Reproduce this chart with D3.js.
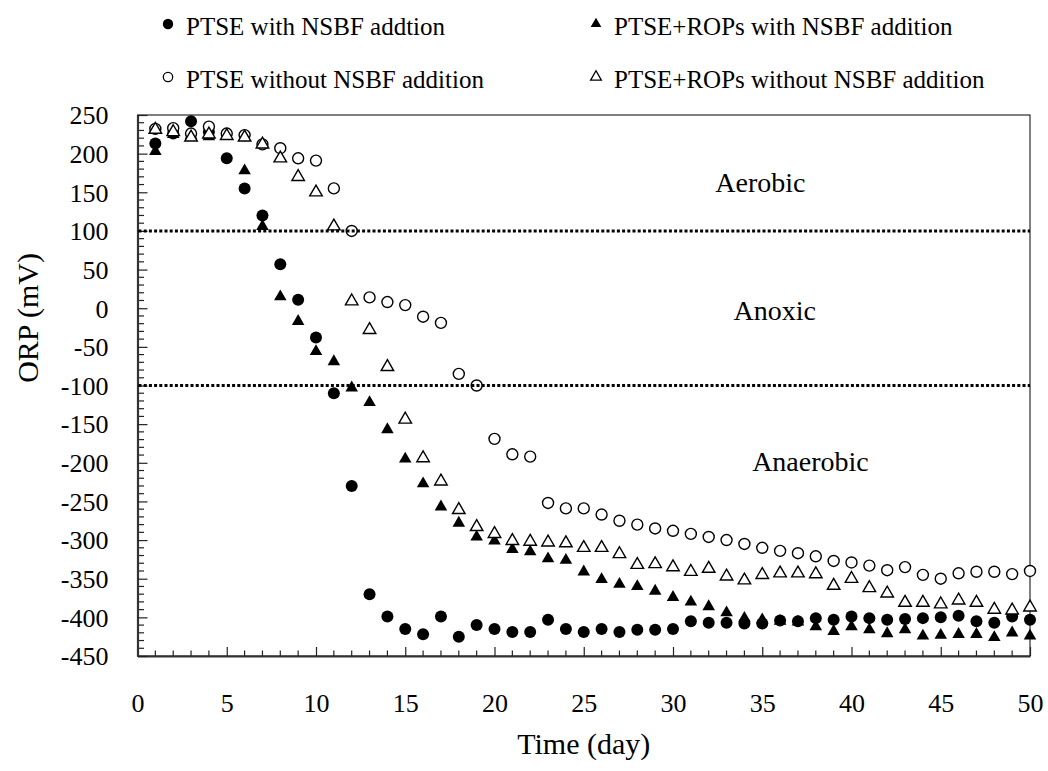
<!DOCTYPE html>
<html>
<head>
<meta charset="utf-8">
<script src="https://cdn.jsdelivr.net/npm/d3@7"></script>
<style>
  body { margin: 0; background: #fff; }
  text { font-family: "Liberation Serif", "Times New Roman", serif; fill: #000; }
</style>
</head>
<body>
<div id="chart"></div>
<script>
const days = [1,2,3,4,5,6,7,8,9,10,11,12,13,14,15,16,17,18,19,20,21,22,23,24,25,
  26,27,28,29,30,31,32,33,34,35,36,37,38,39,40,41,42,43,44,45,46,47,48,49,50];

// PTSE with NSBF addtion (filled circles)
const ptseWith = [213,226,242,228,194,155,120,57,11,-38,-110,-230,-370,-399,-415,-422,-399,-425,-410,-415,
  -419,-419,-403,-415,-419,-415,-419,-416,-416,-415,-405,-407,-407,-408,-408,-404,-405,-401,-403,-399,
  -401,-403,-402,-401,-400,-398,-405,-407,-399,-403];
// PTSE+ROPs with NSBF addition (filled triangles)
const ropsWith = [203,225,224,222,223,178,106,15,-17,-56,-69,-103,-122,-157,-195,-227,-257,-278,-296,-301,
  -312,-315,-324,-326,-341,-351,-357,-360,-366,-374,-380,-386,-394,-401,-403,-405,-406,-412,-418,-412,
  -416,-421,-416,-424,-423,-422,-422,-426,-420,-424];
// PTSE without NSBF addition (open circles)
const ptseWithout = [232,233,226,235,226,224,212,207,194,191,155,100,14,8,4,-11,-19,-85,-100,-169,
  -189,-192,-252,-259,-259,-267,-275,-280,-285,-288,-292,-296,-300,-305,-310,-314,-317,-321,-327,-329,
  -333,-339,-335,-345,-350,-343,-341,-341,-344,-340];
// PTSE+ROPs without NSBF addition (open triangles)
const ropsWithout = [231,228,221,225,223,221,212,194,170,150,106,9,-28,-76,-144,-194,-224,-261,-283,-292,
  -301,-302,-303,-304,-310,-310,-318,-332,-331,-335,-341,-337,-347,-352,-345,-343,-343,-344,-359,-350,
  -362,-369,-381,-381,-383,-378,-381,-390,-391,-387];

const xTicks = [0,5,10,15,20,25,30,35,40,45,50];
const yTicks = [250,200,150,100,50,0,-50,-100,-150,-200,-250,-300,-350,-400,-450];
const zoneLines = [100, -100];
const zones = [
  {label: "Aerobic", day: 34.9, value: 150},
  {label: "Anoxic", day: 35.7, value: -15},
  {label: "Anaerobic", day: 37.7, value: -210}
];
const legendItems = [
  {label: "PTSE with NSBF addtion", shape: "circle", filled: true},
  {label: "PTSE+ROPs with NSBF addition", shape: "triangle", filled: true},
  {label: "PTSE without NSBF addition", shape: "circle", filled: false},
  {label: "PTSE+ROPs without NSBF addition", shape: "triangle", filled: false}
];

const W = 1048, H = 771;
const mLeft = 137.5, mRight = 1030, mTop = 115, mBottom = 656;

const svg = d3.select("#chart").append("svg")
  .attr("width", W).attr("height", H);

const x = d3.scaleLinear().domain([0, 50]).range([mLeft, mRight]);
const y = d3.scaleLinear().domain([-450, 250]).range([mBottom, mTop]);

// frame (top + right thin)
svg.append("rect")
  .attr("x", mLeft).attr("y", mTop)
  .attr("width", mRight - mLeft).attr("height", mBottom - mTop)
  .attr("fill", "none").attr("stroke", "#000").attr("stroke-width", 1);

// minor ticks
const xMinor = d3.range(0, 51, 1).filter(d => d % 5 != 0);
const yMinor = d3.range(-450, 251, 10).filter(d => d % 50 != 0);

svg.append("g").selectAll("line").data(xMinor).enter().append("line")
  .attr("x1", d => x(d)).attr("x2", d => x(d))
  .attr("y1", mBottom).attr("y2", mBottom - 5.5)
  .attr("stroke", "#222").attr("stroke-width", 1.2);
svg.append("g").selectAll("line").data(yMinor).enter().append("line")
  .attr("x1", mLeft).attr("x2", mLeft + 6.5)
  .attr("y1", d => y(d)).attr("y2", d => y(d))
  .attr("stroke", "#222").attr("stroke-width", 1.2);

// axes via d3 (inward ticks), plain hyphen minus like the original
const xAxis = svg.append("g")
  .attr("transform", `translate(0,${mBottom})`)
  .call(d3.axisBottom(x).tickValues(xTicks).tickFormat(d => String(d))
    .tickSize(-9).tickPadding(30).tickSizeOuter(0));
const yAxis = svg.append("g")
  .attr("transform", `translate(${mLeft},0)`)
  .call(d3.axisLeft(y).tickValues(yTicks).tickFormat(d => String(d))
    .tickSize(-10).tickPadding(30).tickSizeOuter(0));

[xAxis, yAxis].forEach(a => {
  a.select(".domain").attr("stroke", "#333").attr("stroke-width", 2.2);
  a.selectAll(".tick line").attr("stroke", "#222").attr("stroke-width", 1.2);
  a.selectAll(".tick text")
    .style("font-family", '"Liberation Serif", "Times New Roman", serif')
    .style("font-size", "26px").attr("fill", "#000");
});
yAxis.selectAll(".tick text").attr("x", -29).attr("dy", "0.34em");
xAxis.selectAll(".tick text").attr("y", 56).attr("dy", 0);

// markers
const tri = d3.symbol().type(d3.symbolTriangle).size(68);

function points(vals, shape, filled) {
  const g = svg.append("g");
  const data = days.map((d, i) => ({day: d, v: vals[i]}));
  if (shape == "circle") {
    g.selectAll("circle").data(data).enter().append("circle")
      .attr("cx", d => x(d.day)).attr("cy", d => y(d.v))
      .attr("r", filled ? 6 : 5.5)
      .attr("fill", filled ? "#000" : "#fff")
      .attr("stroke", "#000").attr("stroke-width", filled ? 0 : 1.4);
  } else {
    g.selectAll("path").data(data).enter().append("path")
      .attr("d", tri)
      .attr("transform", d => `translate(${x(d.day)},${y(d.v)})`)
      .attr("fill", filled ? "#000" : "#fff")
      .attr("stroke", "#000").attr("stroke-width", filled ? 0 : 1.4);
  }
}
points(ptseWith, "circle", true);
points(ropsWith, "triangle", true);
points(ptseWithout, "circle", false);
points(ropsWithout, "triangle", false);

// zone boundaries
svg.append("g").selectAll("line").data(zoneLines).enter().append("line")
  .attr("x1", mLeft + 1).attr("x2", mRight)
  .attr("y1", d => y(d)).attr("y2", d => y(d))
  .attr("stroke", "#000").attr("stroke-width", 3)
  .attr("stroke-dasharray", "3,2.2");

svg.append("g").selectAll("text").data(zones).enter().append("text")
  .attr("x", d => x(d.day)).attr("y", d => y(d.value))
  .attr("text-anchor", "middle")
  .style("font-size", "28px")
  .text(d => d.label);

// axis titles
svg.append("text")
  .attr("x", (mLeft + mRight) / 2).attr("y", 754)
  .attr("text-anchor", "middle")
  .style("font-size", "30px")
  .text("Time (day)");
svg.append("text")
  .attr("transform", "translate(38,318) rotate(-90)")
  .attr("text-anchor", "middle")
  .style("font-size", "30px")
  .text("ORP (mV)");

// legend
const legendPos = [[168, 24], [596, 24], [168, 77], [596, 77]];
const smallTri = d3.symbol().type(d3.symbolTriangle).size(50);
legendItems.forEach((item, i) => {
  const [lx, ly] = legendPos[i];
  if (item.shape == "circle") {
    svg.append("circle").attr("cx", lx).attr("cy", ly).attr("r", item.filled ? 5.2 : 4.7)
      .attr("fill", item.filled ? "#000" : "#fff")
      .attr("stroke", "#000").attr("stroke-width", item.filled ? 0 : 1.3);
  } else {
    svg.append("path").attr("d", smallTri)
      .attr("transform", `translate(${lx},${ly})`)
      .attr("fill", item.filled ? "#000" : "#fff")
      .attr("stroke", "#000").attr("stroke-width", item.filled ? 0 : 1.3);
  }
  svg.append("text")
    .attr("x", lx + 18).attr("y", ly + 10.5)
    .style("font-size", "25px")
    .text(item.label);
});
</script>
</body>
</html>
